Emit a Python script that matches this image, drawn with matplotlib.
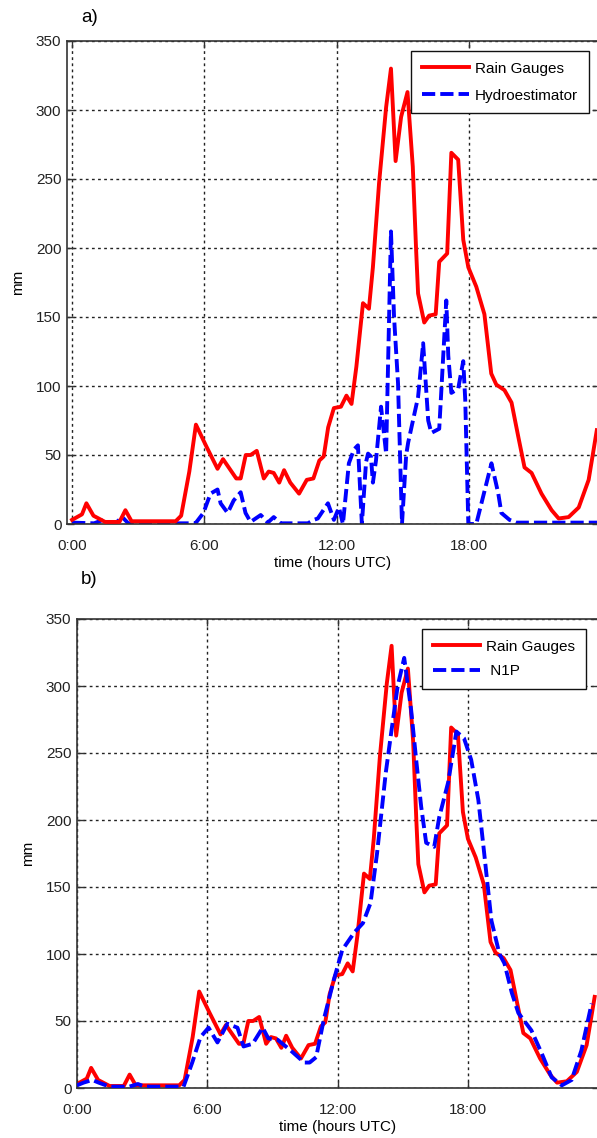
import matplotlib
matplotlib.use("Agg")
import matplotlib.pyplot as plt

plt.rcParams['font.family'] = ['Liberation Sans', 'DejaVu Sans']

# -----------------------------
# data (hours UTC, accumulated mm)
# -----------------------------
gauge_t = [0.00, 0.45, 0.65, 0.97, 1.50, 2.15, 2.42, 2.70, 4.70, 4.95, 5.32, 5.62,
           6.10, 6.60, 6.85, 7.45, 7.65, 7.88, 8.10, 8.38, 8.70, 8.92, 9.15, 9.40,
           9.62, 9.90, 10.30, 10.65, 10.95, 11.22, 11.42, 11.62, 11.88, 12.20, 12.45,
           12.68, 12.90, 13.20, 13.47, 13.65, 13.93, 14.25, 14.47, 14.68, 14.93, 15.22,
           15.46, 15.61, 15.70, 15.98, 16.20, 16.50, 16.66, 17.02, 17.21, 17.52, 17.75,
           17.98, 18.34, 18.71, 19.02, 19.25, 19.62, 19.94, 20.25, 20.53, 20.85, 21.30,
           21.76, 22.08, 22.53, 22.99, 23.44, 23.81]
gauge_mm = [3, 7, 15, 6, 1.5, 1.5, 10, 2, 2, 6, 38, 72,
            56, 40, 47, 33, 33, 50, 50, 53, 33, 38, 37, 30,
            39, 30, 22, 32, 33, 46, 49, 70, 84, 85, 93,
            87, 114, 160, 156, 186, 247, 302, 330, 263, 295, 313,
            259, 199, 167, 146, 151, 152, 190, 196, 269, 264, 206,
            186, 172, 152, 109, 101, 97, 88, 63, 41, 37, 22,
            10, 4, 5, 12, 32, 68]

hydro_t = [0.00, 1.00, 1.41, 1.70, 2.00, 2.28, 2.55, 5.60, 5.96, 6.28, 6.60, 6.74,
           7.06, 7.33, 7.65, 7.87, 8.10, 8.56, 8.88, 9.15, 9.47, 10.70, 10.97, 11.15,
           11.61, 11.88, 12.11, 12.29, 12.56, 12.79, 12.97, 13.15, 13.34, 13.43, 13.56,
           13.65, 13.79, 14.02, 14.25, 14.47, 14.61, 14.79, 14.97, 15.16, 15.25, 15.70,
           15.93, 16.16, 16.30, 16.66, 16.98, 17.07, 17.21, 17.52, 17.75, 17.84, 17.98,
           18.34, 19.03, 19.34, 19.48, 19.85, 20.16, 23.90]
hydro_mm = [1, 0.5, 3, 0.5, 1, 5, 0.5, 0.5, 8, 22, 25, 15,
            8, 17, 23, 8, 1.5, 6.5, 1, 5, 0.5, 0.5, 3, 4,
            15, 3, 12, 0, 44, 54, 57, 0, 45, 51, 49,
            30, 46, 85, 51, 212, 150, 102, 0, 50, 59, 92,
            131, 75, 66, 69, 162, 122, 95, 98, 118, 90, 0,
            0, 44, 22, 8, 3, 1, 1]

n1p_t = [0.00, 0.30, 0.70, 1.00, 1.50, 2.40, 2.80, 3.10, 4.90, 5.30, 5.68, 6.05,
         6.46, 6.92, 7.38, 7.66, 8.08, 8.54, 8.80, 9.23, 9.83, 10.45, 10.70, 11.00,
         11.35, 11.80, 12.20, 12.75, 13.15, 13.50, 13.80, 14.20, 14.45, 14.75, 15.05,
         15.37, 15.60, 15.83, 16.06, 16.43, 16.66, 17.07, 17.45, 17.80, 18.13, 18.46,
         18.73, 19.06, 19.43, 19.66, 20.00, 20.30, 20.90, 21.37, 21.83, 22.30, 22.75,
         23.20, 23.67]
n1p_mm = [2, 4, 6, 4, 1, 1, 3, 1, 1, 19, 38, 45,
          34, 48, 45, 31, 33, 45, 37, 36, 28, 19, 19, 23,
          51, 80, 103, 116, 123, 138, 175, 235, 265, 300, 321,
          282, 245, 210, 183, 180, 202, 228, 266, 261, 245, 215,
          175, 125, 100, 93, 71, 56, 43, 26, 8, 2, 6,
          28, 63]

hour_ticks = [0, 6, 12, 18]
hour_labels = ['0:00', '6:00', '12:00', '18:00']
mm_ticks = [0, 50, 100, 150, 200, 250, 300, 350]

W, H = 597, 1138
fig = plt.figure(figsize=(W / 100, H / 100), dpi=100)
fig.patch.set_facecolor('white')

RED = '#ff0000'
BLUE = '#0000ff'
LW = 2.8
DASH = (3.4, 1.3)
FS = 11


def style_axes(ax, xlim):
    ax.set_xlim(*xlim)
    ax.set_ylim(0, 350)
    ax.set_xticks(hour_ticks)
    ax.set_xticklabels(hour_labels)
    ax.set_yticks(mm_ticks)
    ax.tick_params(direction='in', top=True, right=True, length=5, width=1,
                   labelsize=FS, colors='#333333', labelcolor='#222222', pad=4)
    ax.tick_params(axis='x', pad=11)
    ax.grid(True, color='#222222', linestyle=(0, (2, 2.4)), linewidth=1)
    for sp in ax.spines.values():
        sp.set_color('#333333')
        sp.set_linewidth(1.2)
    ax.set_xlabel('time (hours UTC)', fontsize=FS, labelpad=2)
    ax.set_ylabel('mm', fontsize=FS, labelpad=8)


def add_legend(ax, anchor, spacing):
    leg = ax.legend(loc='upper right', bbox_to_anchor=anchor,
                    bbox_transform=fig.transFigure, borderaxespad=0,
                    fontsize=FS, fancybox=False, framealpha=1, edgecolor='#111111',
                    handlelength=3.1, handletextpad=0.4, borderpad=0.7,
                    labelspacing=spacing)
    leg.get_frame().set_linewidth(1.0)
    return leg


# -----------------------------
# a) rain gauges vs hydroestimator
# -----------------------------
ax1 = fig.add_axes([67 / W, 1 - 524 / H, (W - 67) / W + 0.003, 483 / H])
ax1.plot(gauge_t, gauge_mm, color=RED, lw=LW, label='Rain Gauges', zorder=3)
ax1.plot(hydro_t, hydro_mm, color=BLUE, lw=LW, dashes=DASH, label='Hydroestimator', zorder=2)
style_axes(ax1, (-0.23, 23.9))
add_legend(ax1, (589 / W, 1 - 51 / H), 0.85)
fig.text(81 / W, 1 - 18 / H, 'a)', fontsize=13.5, ha='left', va='center')

# -----------------------------
# b) rain gauges vs N1P
# -----------------------------
ax2 = fig.add_axes([77 / W, 1 - 1088 / H, (W - 77) / W + 0.003, 469 / H])
ax2.plot(gauge_t, gauge_mm, color=RED, lw=LW, label='Rain Gauges', zorder=2)
ax2.plot(n1p_t, n1p_mm, color=BLUE, lw=LW, dashes=DASH, label=' N1P', zorder=3)
style_axes(ax2, (0, 24))
add_legend(ax2, (586 / W, 1 - 629 / H), 0.7)
fig.text(81 / W, 1 - 580 / H, 'b)', fontsize=13.5, ha='left', va='center')

fig.savefig('out.png', dpi=100, facecolor='white')
